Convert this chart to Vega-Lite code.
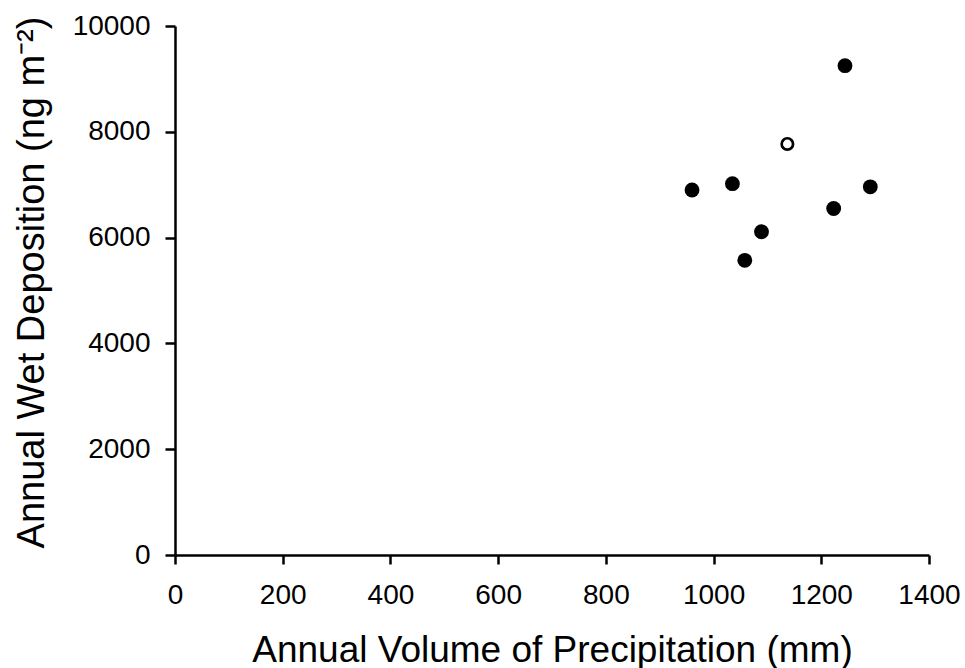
{
  "$schema": "https://vega.github.io/schema/vega-lite/v6.json",
  "width": 754,
  "height": 529,
  "autosize": {"type": "none"},
  "padding": {"left": 175, "top": 26, "right": 36, "bottom": 113},
  "background": "white",
  "config": {
    "view": {"stroke": null},
    "font": "Liberation Sans",
    "axis": {
      "grid": false,
      "domainColor": "black",
      "domainWidth": 2.5,
      "tickColor": "black",
      "tickWidth": 2.5,
      "labelColor": "black",
      "labelFontSize": 28,
      "labelFont": "Liberation Sans",
      "titleFont": "Liberation Sans",
      "titleFontSize": 37,
      "titleFontWeight": "normal",
      "titleColor": "black"
    }
  },
  "data": {
    "values": [
      {"precip": 960, "dep": 6900, "group": "closed"},
      {"precip": 1035, "dep": 7020, "group": "closed"},
      {"precip": 1058, "dep": 5570, "group": "closed"},
      {"precip": 1089, "dep": 6110, "group": "closed"},
      {"precip": 1137, "dep": 7770, "group": "open"},
      {"precip": 1223, "dep": 6550, "group": "closed"},
      {"precip": 1244, "dep": 9250, "group": "closed"},
      {"precip": 1291, "dep": 6960, "group": "closed"}
    ]
  },
  "encoding": {
    "x": {
      "field": "precip",
      "type": "quantitative",
      "scale": {"domain": [0, 1400], "nice": false, "zero": false},
      "axis": {
        "title": "Annual Volume of Precipitation (mm)",
        "values": [0, 200, 400, 600, 800, 1000, 1200, 1400],
        "format": "d",
        "tickSize": 9,
        "labelPadding": 17,
        "titlePadding": 23,
        "labelFlush": false
      }
    },
    "y": {
      "field": "dep",
      "type": "quantitative",
      "scale": {"domain": [0, 10000], "nice": false},
      "axis": {
        "title": "Annual Wet Deposition (ng m⁻²)",
        "values": [0, 2000, 4000, 6000, 8000, 10000],
        "format": "d",
        "tickSize": 10,
        "labelPadding": 15,
        "titlePadding": 21,
        "titleFontSize": 38,
        "titleY": 256,
        "labelFlush": false
      }
    }
  },
  "layer": [
    {
      "transform": [{"filter": "datum.group === 'closed'"}],
      "mark": {"type": "point", "shape": "circle", "filled": true, "color": "black", "size": 220, "opacity": 1}
    },
    {
      "transform": [{"filter": "datum.group === 'open'"}],
      "mark": {"type": "point", "shape": "circle", "filled": false, "fill": "white", "stroke": "black", "strokeWidth": 2.7, "size": 130, "opacity": 1}
    },
    {
      "data": {"values": [{}]},
      "mark": {"type": "rule", "color": "black", "strokeWidth": 2.5},
      "encoding": {"x": {"datum": 0}, "x2": {"datum": 39}, "y": {"datum": 10000}}
    },
    {
      "data": {"values": [{}]},
      "mark": {"type": "rule", "color": "black", "strokeWidth": 2.5},
      "encoding": {"x": {"datum": 1400}, "y": {"datum": 0}, "y2": {"datum": 280}}
    }
  ]
}
